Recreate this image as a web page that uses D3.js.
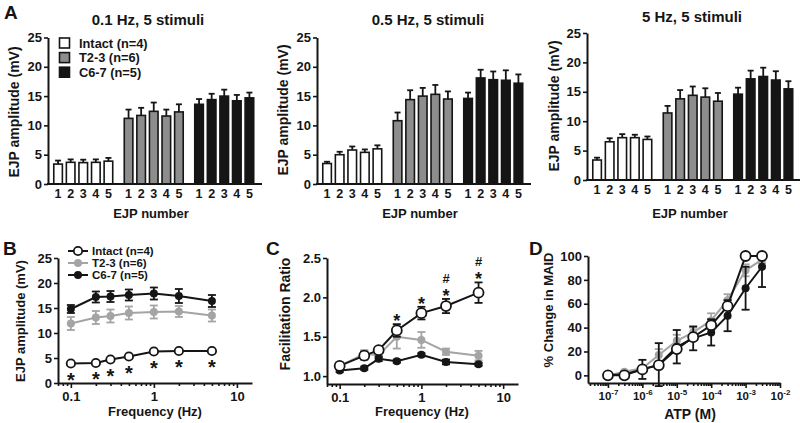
<!DOCTYPE html>
<html><head><meta charset="utf-8">
<script src="https://cdn.jsdelivr.net/npm/d3@7"></script>
<style>
body{margin:0;background:#fff}
svg{font-family:"Liberation Sans",Arial,sans-serif;font-weight:bold}
</style></head><body>
<svg id="c" width="800" height="423"></svg>
<script>
// ---------- DATA ----------
const ejpNumbers = ["1","2","3","4","5"];
const groupNames = ["Intact (n=4)","T2-3 (n=6)","C6-7 (n=5)"];
const aTitles = ["0.1 Hz, 5 stimuli","0.5 Hz, 5 stimuli","5 Hz, 5 stimuli"];
const aYTicks = [0,5,10,15,20,25];

// Panel A: 0.1 Hz
const a01Intact = [3.4,3.7,3.65,3.7,3.9];
const a01IntactErr = [0.6,0.5,0.5,0.5,0.55];
const a01T23 = [11.2,11.7,12.4,11.6,12.3];
const a01T23Err = [1.5,1.3,1.5,1.1,1.3];
const a01C67 = [13.6,14.4,15.0,14.2,14.7];
const a01C67Err = [0.9,1.0,1.1,1.0,0.9];
// Panel A: 0.5 Hz
const a05Intact = [3.5,5.0,5.8,5.4,6.0];
const a05IntactErr = [0.3,0.5,0.6,0.5,0.6];
const a05T23 = [10.8,14.4,15.0,15.3,14.5];
const a05T23Err = [1.4,1.6,1.4,1.6,1.3];
const a05C67 = [14.6,18.1,17.8,17.7,17.2];
const a05C67Err = [1.0,1.4,1.4,1.7,1.5];
// Panel A: 5 Hz
const a5Intact = [3.4,6.5,7.2,7.2,6.9];
const a5IntactErr = [0.4,0.6,0.6,0.5,0.5];
const a5T23 = [11.4,13.8,14.4,14.1,13.4];
const a5T23Err = [1.2,1.5,1.5,1.5,1.4];
const a5C67 = [14.6,17.2,17.6,17.0,15.5];
const a5C67Err = [1.1,1.4,1.5,1.5,1.3];

// Panel B & C: frequency
const freqs = [0.1,0.2,0.3,0.5,1,2,5];
const freqTickLabels = ["0.1","1","10"];
const bYTicks = [0,5,10,15,20,25];
const bIntact = [3.9,4.0,4.7,5.3,6.3,6.4,6.4];
const bIntactErr = [0.3,0.3,0.3,0.3,0.3,0.3,0.3];
const bT23 = [11.9,13.1,13.4,14.0,14.2,14.3,13.5];
const bT23Err = [1.3,1.3,1.3,1.3,1.3,1.1,1.2];
const bC67 = [14.8,17.2,17.3,17.6,17.9,17.4,16.4];
const bC67Err = [0.8,1.1,1.1,1.1,1.2,1.4,1.2];
const bSig = ["*","*","*","*","*","*","*"];

const cYTicks = [1.0,1.5,2.0,2.5];
const cIntact = [1.13,1.26,1.33,1.58,1.80,1.89,2.06];
const cIntactErr = [0.04,0.05,0.03,0.08,0.08,0.09,0.13];
const cT23 = [1.13,1.28,1.27,1.50,1.46,1.31,1.26];
const cT23Err = [0.03,0.05,0.04,0.15,0.10,0.04,0.06];
const cC67 = [1.07,1.10,1.22,1.19,1.27,1.18,1.15];
const cC67Err = [0.02,0.02,0.03,0.02,0.02,0.03,0.02];
const cSigStar = ["","","","*","*","*","*"];
const cSigHash = ["","","","","","#","#"];

// Panel D: ATP
const atp = [1e-7,3e-7,1e-6,3e-6,1e-5,3e-5,1e-4,3e-4,1e-3,3e-3];
const dYTicks = [0,20,40,60,80,100];
const dExponents = [-7,-6,-5,-4,-3,-2];
const dIntact = [0,0,5,8.5,22,32,42,58,100,100];
const dIntactErr = [1,1,2,2,3,3,3,3,0,0];
const dT23 = [0,3,6,17,29,36,46,63,88,97];
const dT23Err = [1,1,2,5,5,4,6,5,5,3];
const dC67 = [0,1,5,9,24,31,36,50,73,91];
const dC67Err = [1,2,8,18,14,10,11,13,18,17];

// ---------- STYLE ----------
const BLACK = "#151515", GREYBAR = "#8d8d8d", GREYLINE = "#a4a4a4";
const svg = d3.select("#c");

function styleAxis(g){
  g.selectAll("path.domain").attr("stroke",BLACK).attr("stroke-width",2);
  g.selectAll(".tick line").attr("stroke",BLACK).attr("stroke-width",1.6);
  g.selectAll(".tick text").attr("fill",BLACK).style("font-weight","bold");
}

function ylabel(text,x,y,size){
  svg.append("text").attr("transform",`translate(${x},${y}) rotate(-90)`)
    .attr("text-anchor","middle").attr("dominant-baseline","central")
    .attr("font-size",size).attr("fill",BLACK).text(text);
}
function letter(t,x,y){
  svg.append("text").attr("x",x).attr("y",y).attr("font-size",19).attr("fill",BLACK).text(t);
}

// ---------- PANEL A ----------
const aPanels = [
  {ax:48, y0:184, y25:37.5, title:aTitles[0], tx:148, ty:25, lx:14, ly:112,
   series:[[a01Intact,a01IntactErr],[a01T23,a01T23Err],[a01C67,a01C67Err]], legend:true},
  {ax:317, y0:184, y25:37.5, title:aTitles[1], tx:428, ty:25, lx:283, ly:110,
   series:[[a05Intact,a05IntactErr],[a05T23,a05T23Err],[a05C67,a05C67Err]]},
  {ax:587, y0:180, y25:33, title:aTitles[2], tx:692, ty:22, lx:554, ly:106,
   series:[[a5Intact,a5IntactErr],[a5T23,a5T23Err],[a5C67,a5C67Err]]}
];
const barFills = ["#ffffff",GREYBAR,BLACK];

aPanels.forEach(p=>{
  const x = d3.scaleLinear().domain([-0.8,16.2]).range([p.ax,p.ax+214]);
  const y = d3.scaleLinear().domain([0,25]).range([p.y0,p.y25]);
  const g = svg.append("g");
  p.series.forEach((s,gi)=>{
    const [vals,errs]=s;
    vals.forEach((v,i)=>{
      const slot = gi*5.6+i, cx = x(slot);
      g.append("line").attr("x1",cx).attr("x2",cx).attr("y1",y(v)).attr("y2",y(v+errs[i]))
        .attr("stroke",BLACK).attr("stroke-width",1.8);
      g.append("line").attr("x1",cx-3).attr("x2",cx+3).attr("y1",y(v+errs[i])).attr("y2",y(v+errs[i]))
        .attr("stroke",BLACK).attr("stroke-width",1.8);
      g.append("rect").attr("x",cx-4.3).attr("width",8.6).attr("y",y(v)).attr("height",p.y0-y(v))
        .attr("fill",barFills[gi]).attr("stroke",BLACK).attr("stroke-width",1.6);
      g.append("text").attr("x",cx).attr("y",p.y0+14).attr("text-anchor","middle")
        .attr("font-size",12.5).attr("fill",BLACK).text(ejpNumbers[i]);
    });
  });
  const ya = g.append("g").attr("transform",`translate(${p.ax},0)`)
    .call(d3.axisLeft(y).tickValues(aYTicks).tickSize(4).tickSizeOuter(0).tickPadding(2));
  ya.selectAll("text").attr("font-size",13);
  styleAxis(ya);
  g.append("line").attr("x1",p.ax-1).attr("x2",p.ax+214).attr("y1",p.y0).attr("y2",p.y0)
    .attr("stroke",BLACK).attr("stroke-width",2);
  svg.append("text").attr("x",p.tx).attr("y",p.ty).attr("text-anchor","middle")
    .attr("font-size",15).attr("fill",BLACK).text(p.title);
  svg.append("text").attr("x",p.ax+103).attr("y",218).attr("text-anchor","middle")
    .attr("font-size",13).attr("fill",BLACK).text("EJP number");
  ylabel("EJP amplitude (mV)",p.lx,p.ly,14);
  if(p.legend){
    groupNames.forEach((n,i)=>{
      const cy=43+i*14.6;
      svg.append("rect").attr("x",59.5).attr("y",cy-5).attr("width",10).attr("height",10)
        .attr("fill",barFills[i]).attr("stroke",BLACK).attr("stroke-width",1.6);
      svg.append("text").attr("x",79).attr("y",cy).attr("dominant-baseline","central")
        .attr("font-size",12.8).attr("fill",BLACK).text(n);
    });
  }
});
letter("A",4,19);

// ---------- LINE PANELS ----------
function logAxis(g, x, majors, lo, hi, labelFn){
  const ticks=[];
  for(let e=lo;e<=hi;e++){
    for(let k=1;k<=9;k++){
      const v=k*Math.pow(10,e);
      const [d0,d1]=x.domain();
      if(v>=d0*0.999 && v<=d1*1.001) ticks.push(v);
    }
  }
  const isMajor = v => majors.some(m=>Math.abs(Math.log10(v)-Math.log10(m))<1e-6);
  const ax = g.call(d3.axisBottom(x).tickValues(ticks).tickSizeOuter(0).tickPadding(3)
      .tickFormat(v=> isMajor(v) ? labelFn(v) : ""));
  ax.selectAll(".tick line").attr("y2",v=>isMajor(v)?5:3);
  ax.selectAll(".tick text").attr("font-size",13);
  ax.selectAll(".tick").filter(v=>!isMajor(v)).select("text").remove();
  styleAxis(ax);
  return ax;
}

function seriesDraw(g,x,y,xs,vals,errs,opt){
  const pts = xs.map((f,i)=>({f,v:vals[i],e:errs[i]}));
  const yMax = opt.yMax===undefined ? Infinity : opt.yMax;
  g.append("path").datum(pts).attr("fill","none").attr("stroke",opt.line).attr("stroke-width",2)
    .attr("d",d3.line().x(d=>x(d.f)).y(d=>y(d.v)));
  const cw=opt.cap;
  pts.forEach(d=>{
    if(d.e<=0) return;
    const cx=x(d.f);
    const top=Math.min(d.v+d.e,yMax);
    g.append("line").attr("x1",cx).attr("x2",cx).attr("y1",y(d.v-d.e)).attr("y2",y(top))
      .attr("stroke",opt.line).attr("stroke-width",1.8);
    const caps=[d.v-d.e];
    if(d.v+d.e<=yMax) caps.push(d.v+d.e);
    caps.forEach(t=>g.append("line").attr("x1",cx-cw).attr("x2",cx+cw)
      .attr("y1",y(t)).attr("y2",y(t)).attr("stroke",opt.line).attr("stroke-width",1.8));
  });
  g.selectAll(null).data(pts).enter().append("circle")
    .attr("cx",d=>x(d.f)).attr("cy",d=>y(d.v)).attr("r",opt.r)
    .attr("fill",opt.fill).attr("stroke",opt.line).attr("stroke-width",opt.sw);
  return pts;
}

// ---------- PANEL B ----------
{
  const x = d3.scaleLog().domain([0.07,15.2]).range([58,252]);
  const y = d3.scaleLinear().domain([0,25]).range([383,258]);
  const g = svg.append("g");
  seriesDraw(g,x,y,freqs,bT23,bT23Err,{line:GREYLINE,fill:GREYLINE,r:4,sw:0,cap:4});
  seriesDraw(g,x,y,freqs,bC67,bC67Err,{line:BLACK,fill:BLACK,r:4,sw:0,cap:4});
  seriesDraw(g,x,y,freqs,bIntact,bIntactErr,{line:BLACK,fill:"#fff",r:4.2,sw:1.8,cap:3});
  freqs.forEach((f,i)=>{
    g.append("text").attr("x",x(f)).attr("y",y(bIntact[i])+23).attr("text-anchor","middle")
      .attr("font-size",20).attr("fill",BLACK).text(bSig[i]);
  });
  const ya=svg.append("g").attr("transform","translate(58,0)")
    .call(d3.axisLeft(y).tickValues(bYTicks).tickSize(4).tickSizeOuter(0).tickPadding(2));
  ya.selectAll("text").attr("font-size",13); styleAxis(ya);
  const xa=svg.append("g").attr("transform","translate(0,383)");
  logAxis(xa,x,[0.1,1,10],-2,1,v=>freqTickLabels[Math.round(Math.log10(v))+1]);
  svg.append("text").attr("x",155).attr("y",416).attr("text-anchor","middle")
    .attr("font-size",13).attr("fill",BLACK).text("Frequency (Hz)");
  ylabel("EJP amplitude (mV)",20,321,13);
  // legend
  const legStyles=[{line:BLACK,fill:"#fff",r:4.2,sw:1.8},{line:GREYLINE,fill:GREYLINE,r:4,sw:0},{line:BLACK,fill:BLACK,r:4,sw:0}];
  groupNames.forEach((n,i)=>{
    const cy=251+i*12, s=legStyles[i];
    svg.append("line").attr("x1",68).attr("x2",88).attr("y1",cy).attr("y2",cy)
      .attr("stroke",s.line).attr("stroke-width",2);
    svg.append("circle").attr("cx",78).attr("cy",cy).attr("r",s.r).attr("fill",s.fill)
      .attr("stroke",s.line).attr("stroke-width",s.sw);
    svg.append("text").attr("x",92).attr("y",cy).attr("dominant-baseline","central")
      .attr("font-size",11.5).attr("fill",BLACK).text(n);
  });
  letter("B",3,255);
}

// ---------- PANEL C ----------
{
  const x = d3.scaleLog().domain([0.07,15.2]).range([327,518]);
  const y = d3.scaleLinear().domain([0.9,2.5]).range([384,258]);
  const g = svg.append("g");
  seriesDraw(g,x,y,freqs,cT23,cT23Err,{line:GREYLINE,fill:GREYLINE,r:4,sw:0,cap:4});
  seriesDraw(g,x,y,freqs,cC67,cC67Err,{line:BLACK,fill:BLACK,r:4,sw:0,cap:4});
  seriesDraw(g,x,y,freqs,cIntact,cIntactErr,{line:BLACK,fill:"#fff",r:5,sw:1.8,cap:4});
  freqs.forEach((f,i)=>{
    const top=y(cIntact[i]+cIntactErr[i]);
    g.append("text").attr("x",x(f)).attr("y",top+3).attr("text-anchor","middle")
      .attr("font-size",18).attr("fill",BLACK).text(cSigStar[i]);
    g.append("text").attr("x",x(f)).attr("y",top-16).attr("text-anchor","middle")
      .attr("font-size",13).attr("fill",BLACK).text(cSigHash[i]);
  });
  const ya=svg.append("g").attr("transform","translate(327,0)")
    .call(d3.axisLeft(y).tickValues(cYTicks).tickFormat(d3.format(".1f")).tickSize(4).tickSizeOuter(0).tickPadding(2));
  ya.selectAll("text").attr("font-size",13); styleAxis(ya);
  const xa=svg.append("g").attr("transform","translate(0,384)");
  logAxis(xa,x,[0.1,1,10],-2,1,v=>freqTickLabels[Math.round(Math.log10(v))+1]);
  svg.append("text").attr("x",422).attr("y",416).attr("text-anchor","middle")
    .attr("font-size",13).attr("fill",BLACK).text("Frequency (Hz)");
  ylabel("Facilitation Ratio",285,314,14);
  letter("C",266,255);
}

// ---------- PANEL D ----------
{
  const x = d3.scaleLog().domain([Math.pow(10,-7.58),1e-2]).range([588,780]);
  const y = d3.scaleLinear().domain([-6.4,100]).range([383,256]);
  const g = svg.append("g");
  seriesDraw(g,x,y,atp,dT23,dT23Err,{line:GREYLINE,fill:GREYLINE,r:4,sw:0,cap:4,yMax:100});
  seriesDraw(g,x,y,atp,dC67,dC67Err,{line:BLACK,fill:BLACK,r:4,sw:0,cap:4,yMax:100});
  seriesDraw(g,x,y,atp,dIntact,dIntactErr,{line:BLACK,fill:"#fff",r:5,sw:1.8,cap:3,yMax:100});
  const ya=svg.append("g").attr("transform","translate(588,0)")
    .call(d3.axisLeft(y).tickValues(dYTicks).tickSize(4).tickSizeOuter(0).tickPadding(2));
  ya.selectAll("text").attr("font-size",13); styleAxis(ya);
  const xa=svg.append("g").attr("transform","translate(0,383)");
  const majors=dExponents.map(e=>Math.pow(10,e));
  logAxis(xa,x,majors,-8,-2,v=>"10");
  xa.selectAll(".tick text").each(function(v){
    const e=Math.round(Math.log10(v));
    const t=d3.select(this).text("").attr("dy","0.62em");
    t.append("tspan").attr("font-size",11.5).text("10");
    t.append("tspan").attr("font-size",8).attr("dy",-5).text(String(e));
  });
  svg.append("text").attr("x",690).attr("y",419).attr("text-anchor","middle")
    .attr("font-size",14).attr("fill",BLACK).text("ATP (M)");
  ylabel("% Change in MAID",548,310,13);
  letter("D",529,255);
}
</script>
</body></html>
